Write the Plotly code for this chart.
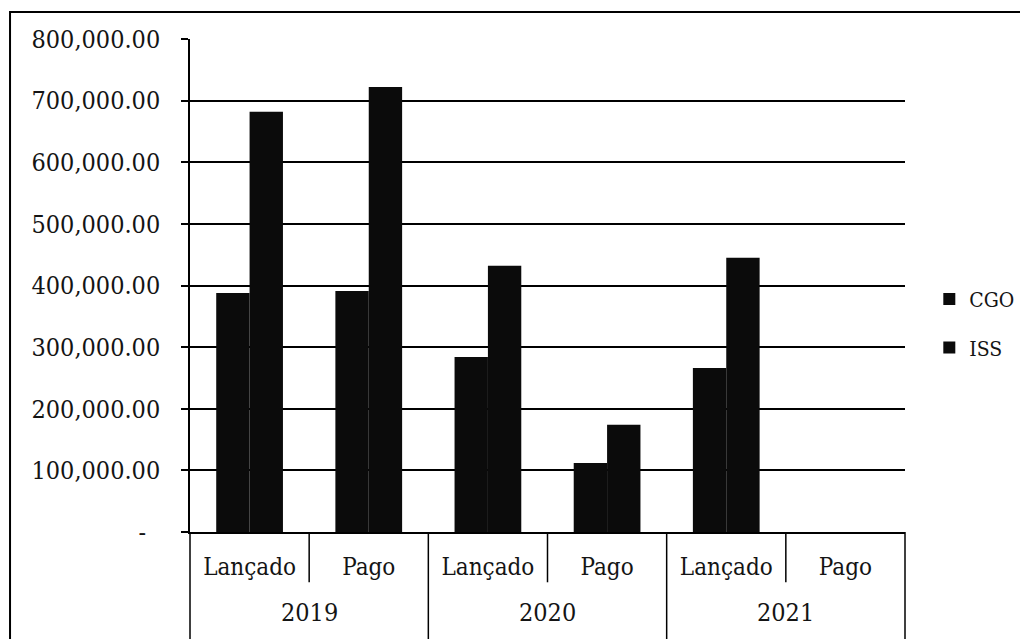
import plotly.graph_objects as go

years = ["2019", "2020", "2021"]
status = ["Lançado", "Pago", "Lançado", "Pago", "Lançado", "Pago"]
year_of = ["2019", "2019", "2020", "2020", "2021", "2021"]
cgo = [388000, 391000, 284000, 112000, 266000, 0]
iss = [682000, 722000, 432000, 174000, 445000, 0]
y_ticks = [0, 100000, 200000, 300000, 400000, 500000, 600000, 700000, 800000]
y_labels = ["-\u00a0\u00a0" if v == 0 else f"{v:,.2f}" for v in y_ticks]

keys = [f"{y}|{s}" for y, s in zip(year_of, status)]

FONT = "DejaVu Serif Condensed, DejaVu Serif, serif"
TXT = "#141414"

fig = go.Figure()
fig.add_trace(go.Bar(x=keys, y=cgo, name="CGO", marker_color="#0b0b0b",
                     marker_line_width=0, legendgroup="a"))
fig.add_trace(go.Bar(x=keys, y=iss, name="ISS", marker_color="#0b0b0b",
                     marker_line_width=0, legendgroup="b"))

shapes = []
n = len(keys)
# inner dividers between Lançado / Pago
for k in range(1, n, 2):
    xp = k / n
    shapes.append(dict(type="line", xref="paper", yref="paper", x0=xp, x1=xp,
                       y0=0, y1=-0.102, line=dict(color="black", width=1.5)))
# outer (year) dividers
for k in range(0, n + 1, 2):
    xp = k / n
    shapes.append(dict(type="line", xref="paper", yref="paper", x0=xp, x1=xp,
                       y0=0, y1=-0.25, line=dict(color="black", width=1.5)))
# outer frame
shapes.append(dict(type="rect", xref="paper", yref="paper", x0=-0.2517, x1=1.4,
                   y0=-0.6, y1=1.0548, line=dict(color="black", width=2),
                   fillcolor="rgba(0,0,0,0)"))

annotations = []
for i, yr in enumerate(years):
    annotations.append(dict(text=yr, xref="paper", yref="paper",
                            x=(2 * i + 1) / n, y=-0.164, xanchor="center",
                            yanchor="middle", showarrow=False,
                            font=dict(family=FONT, size=25, color=TXT)))

fig.update_layout(
    width=1028, height=639,
    margin=dict(l=182, r=131, t=31, b=115, autoexpand=False),
    paper_bgcolor="white", plot_bgcolor="white",
    barmode="group", bargap=0.44, bargroupgap=0,
    font=dict(family=FONT, color=TXT),
    showlegend=True,
    legend=dict(x=1.034, y=0.423, xanchor="left", yanchor="middle",
                font=dict(family=FONT, size=21, color=TXT),
                traceorder="grouped", tracegroupgap=18, bgcolor="rgba(0,0,0,0)"),
    shapes=shapes,
    annotations=annotations,
)
fig.update_xaxes(type="category", categoryorder="array", categoryarray=keys,
                 tickvals=keys, ticktext=status, automargin=False,
                 showline=True, linecolor="black", linewidth=1.5,
                 showgrid=False, ticks="", ticklabelstandoff=12,
                 tickfont=dict(family=FONT, size=24, color=TXT))
fig.update_yaxes(range=[0, 800000], tickvals=y_ticks, ticktext=y_labels,
                 automargin=False,
                 showline=True, linecolor="black", linewidth=1.5,
                 showgrid=True, gridcolor="black", gridwidth=1.5,
                 ticks="outside", ticklen=7, tickcolor="black", tickwidth=1.5,
                 ticklabelstandoff=16,
                 zeroline=False, tickfont=dict(family=FONT, size=25, color=TXT))

fig.write_html("out.html")
